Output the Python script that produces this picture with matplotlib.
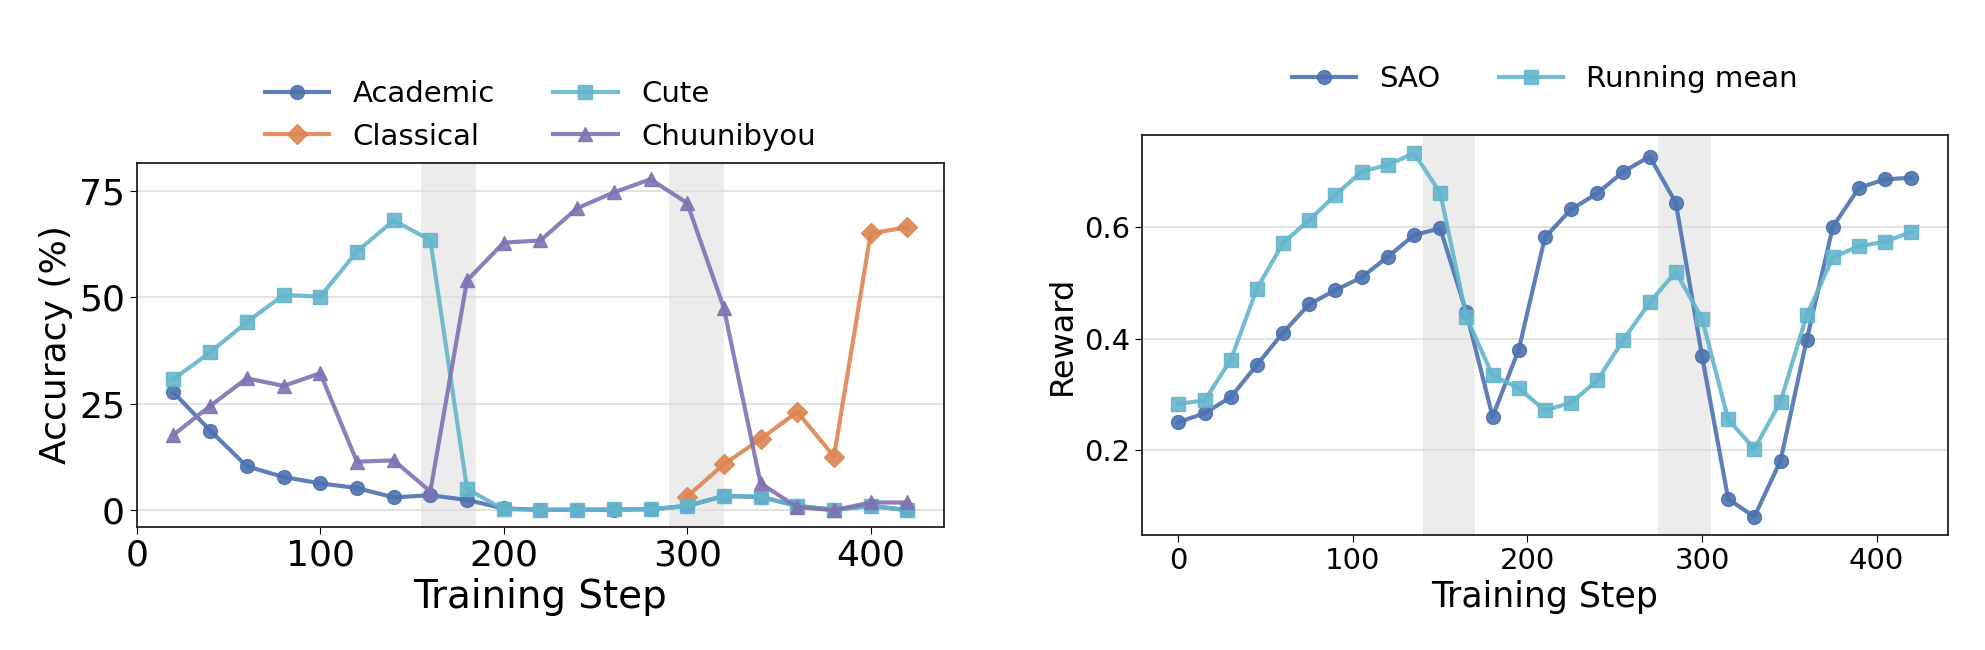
import matplotlib
matplotlib.use("Agg")
import matplotlib.pyplot as plt

# ---- left panel: accuracy per style ----
steps_acc = [20, 40, 60, 80, 100, 120, 140, 160, 180, 200, 220,
             240, 260, 280, 300, 320, 340, 360, 380, 400, 420]
academic = [27.7, 18.7, 10.3, 7.8, 6.3, 5.2, 3.0, 3.5, 2.4, 0.4, 0.1,
            0.1, 0.1, 0.2, 1.0, 3.3, 3.1, 1.0, 0.1, 1.0, 0.0]
cute = [30.8, 37.1, 44.2, 50.6, 50.2, 60.8, 68.1, 63.5, 5.0, 0.2, 0.1,
        0.1, 0.2, 0.2, 1.0, 3.4, 3.2, 1.0, 0.1, 1.0, 0.0]
chuuni = [17.7, 24.5, 31.0, 29.2, 32.2, 11.4, 11.7, 4.4, 54.0, 62.9, 63.4,
          71.0, 74.7, 77.8, 72.2, 47.5, 6.3, 0.7, 0.0, 1.8, 1.8]
steps_cls = [300, 320, 340, 360, 380, 400, 420]
classical = [3.2, 10.8, 16.7, 23.1, 12.6, 65.1, 66.5]
spans_acc = [(155, 185), (290, 320)]

# ---- right panel: reward ----
steps_rw = [0, 15, 30, 45, 60, 75, 90, 105, 120, 135, 150, 165, 180, 195, 210,
            225, 240, 255, 270, 285, 300, 315, 330, 345, 360, 375, 390, 405, 420]
sao = [0.250, 0.266, 0.295, 0.353, 0.411, 0.462, 0.487, 0.510, 0.547, 0.586,
       0.598, 0.447, 0.260, 0.380, 0.582, 0.632, 0.661, 0.700, 0.727, 0.644,
       0.369, 0.112, 0.080, 0.181, 0.398, 0.601, 0.671, 0.686, 0.689]
running_mean = [0.283, 0.289, 0.362, 0.490, 0.572, 0.613, 0.658, 0.700, 0.712,
                0.733, 0.662, 0.439, 0.334, 0.311, 0.271, 0.285, 0.325, 0.398,
                0.465, 0.520, 0.436, 0.255, 0.202, 0.287, 0.442, 0.546, 0.566,
                0.574, 0.592]
spans_rw = [(140, 170), (275, 305)]

BLUE = "#4C72B0"
ORANGE = "#DD8452"
PURPLE = "#8172B3"
CYAN = "#64B5CD"

plt.rcParams['font.family'] = ['DejaVu Sans']

fig = plt.figure(figsize=(19.85, 6.5), dpi=100)
ax1 = fig.add_axes([0.0689, 0.1897, 0.4067, 0.56])
ax2 = fig.add_axes([0.5752, 0.1769, 0.4062, 0.6154])

line_kw = dict(lw=3, ms=10, alpha=0.9)

ax1.plot(steps_acc, academic, marker='o', color=BLUE, label='Academic', **line_kw)
ax1.plot(steps_cls, classical, marker='D', color=ORANGE, label='Classical', **line_kw)
ax1.plot(steps_acc, cute, marker='s', color=CYAN, label='Cute', **line_kw)
ax1.plot(steps_acc, chuuni, marker='^', color=PURPLE, label='Chuunibyou', **line_kw)
for a, b in spans_acc:
    ax1.axvspan(a, b, color='gray', alpha=0.15, lw=0, zorder=0)
ax1.set_xlabel('Training Step', fontsize=28)
ax1.set_ylabel('Accuracy (%)', fontsize=26)
ax1.tick_params(labelsize=26, length=5)
ax1.set_yticks([0, 25, 50, 75])
ax1.set_xticks([0, 100, 200, 300, 400])
ax1.legend(loc='center', bbox_to_anchor=(0.5, 1.13), ncol=2, frameon=False,
           fontsize=21, handlelength=2.2, labelspacing=0.5, columnspacing=2.0)

ax2.plot(steps_rw, sao, marker='o', color=BLUE, label='SAO', **line_kw)
ax2.plot(steps_rw, running_mean, marker='s', color=CYAN, label='Running mean', **line_kw)
for a, b in spans_rw:
    ax2.axvspan(a, b, color='gray', alpha=0.15, lw=0, zorder=0)
ax2.set_xlabel('Training Step', fontsize=25)
ax2.set_ylabel('Reward', fontsize=23)
ax2.tick_params(labelsize=21, length=5)
ax2.set_yticks([0.2, 0.4, 0.6])
ax2.set_xticks([0, 100, 200, 300, 400])
ax2.legend(loc='center', bbox_to_anchor=(0.5, 1.14), ncol=2, frameon=False,
           fontsize=21, handlelength=2.2, columnspacing=2.0)

for ax in (ax1, ax2):
    ax.grid(axis='y', color='#dddddd', lw=1.2, zorder=0)
    ax.set_axisbelow(True)
    for sp in ax.spines.values():
        sp.set_color('#222222')
        sp.set_linewidth(1.3)

fig.savefig('out.png', dpi=100)
